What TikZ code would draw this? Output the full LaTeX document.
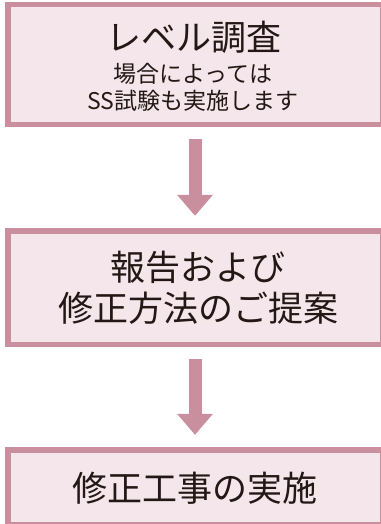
\documentclass[tikz,border=0pt]{standalone}
\usepackage{fontspec}
\setmainfont{Noto Sans CJK JP}
\usetikzlibrary{arrows.meta}
\definecolor{frame}{RGB}{201,143,158}
\definecolor{boxfill}{RGB}{244,230,234}
\definecolor{ink}{RGB}{35,24,21}
\begin{document}
\begin{tikzpicture}[x=1pt,y=-1pt,
  stepbox/.style={draw=frame, fill=boxfill, line width=5.5pt, inner sep=0pt, outer sep=0pt, minimum width=374.5pt},
  big/.style={font=\fontsize{35}{35}\selectfont, text=ink, inner sep=0pt},
  small/.style={font=\fontsize{23}{23}\selectfont, text=ink, inner sep=0pt},
  flow/.style={draw=frame, line width=13pt, -{Triangle[length={21pt 0 0}, width={36pt 0 0}, line width=0pt]}, shorten <=15pt, shorten >=15pt}]
\useasboundingbox (0,0) rectangle (380,524);
\node[stepbox, minimum height=119.5pt] (b1) at (195,64.5) {};
\node[stepbox, minimum height=113.5pt] (b2) at (195,287.5) {};
\node[stepbox, minimum height=74.5pt] (b3) at (195,487) {};
\node[big] (t1) at (194,37) {レベル調査};
\node[small] (t1b) at (193,74) {場合によっては};
\node[small] (t1c) at (193,100.5) {SS試験も実施します};
\node[big] (t2) at (198,267.5) {報告および};
\node[big] (t2b) at (198,308) {修正方法のご提案};
\node[big] (t3) at (195,488.5) {修正工事の実施};
\draw[flow] (b1.south) -- (b2.north);
\draw[flow] (b2.south) -- (b3.north);
\end{tikzpicture}
\end{document}
